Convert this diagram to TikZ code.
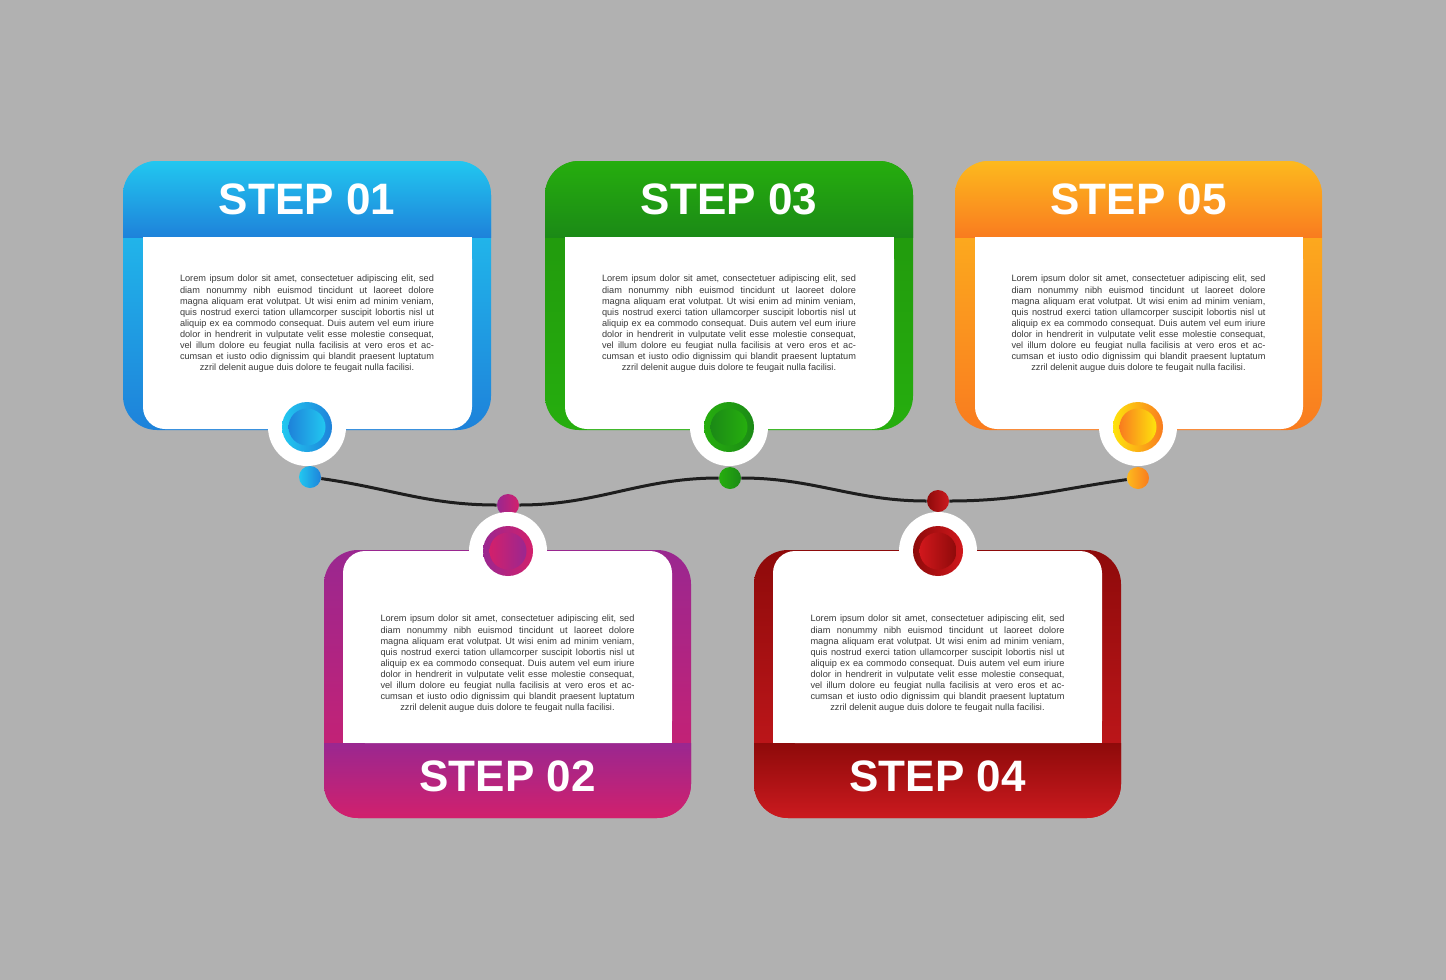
\documentclass[tikz,border=0pt]{standalone}
\usepackage{fontspec}
\setmainfont{Liberation Sans}
\frenchspacing
\definecolor{bg}{HTML}{B1B1B1}
\definecolor{bA}{HTML}{22C8F0}\definecolor{bB}{HTML}{1E82DA}
\definecolor{gA}{HTML}{26AE0E}\definecolor{gB}{HTML}{1B8A16}
\definecolor{oA}{HTML}{FDBA1E}\definecolor{oB}{HTML}{F97C1F}
\definecolor{pA}{HTML}{9A2790}\definecolor{pB}{HTML}{D2206C}
\definecolor{rA}{HTML}{8E0A0A}\definecolor{rB}{HTML}{CC1A1F}
\definecolor{txt}{HTML}{3A3A3A}
\definecolor{wavec}{HTML}{1E1E1E}
\newcommand\JL[1]{\makebox[127pt][s]{#1}\\}
\newcommand\LoremBody{%
\JL{Lorem ipsum dolor sit amet, consectetuer adipiscing elit, sed}%
\JL{diam nonummy nibh euismod tincidunt ut laoreet dolore}%
\JL{magna aliquam erat volutpat. Ut wisi enim ad minim veniam,}%
\JL{quis nostrud exerci tation ullamcorper suscipit lobortis nisl ut}%
\JL{aliquip ex ea commodo consequat. Duis autem vel eum iriure}%
\JL{dolor in hendrerit in vulputate velit esse molestie consequat,}%
\JL{vel illum dolore eu feugiat nulla facilisis at vero eros et ac-}%
\JL{cumsan et iusto odio dignissim qui blandit praesent luptatum}%
zzril delenit augue duis dolore te feugait nulla facilisi.}
\tikzset{
  steplbl/.style={text=white, font=\fontsize{22}{26}\selectfont\bfseries, inner sep=0pt},
  bodytxt/.style={text=txt, font=\fontsize{4.6}{5.55}\selectfont, align=center, inner sep=0pt},
  holderc/.style={circle, fill=white, minimum size=39pt, inner sep=0pt},
  ringc/.style={circle, minimum size=25pt, inner sep=0pt},
  corec/.style={circle, minimum size=18.5pt, inner sep=0pt},
  dotc/.style={circle, minimum size=11pt, inner sep=0pt},
  wave/.style={draw=wavec, line width=1.5pt}
}
% top card: #1 xl, #2 xr, #3 name, #4 label, #5 hdr top, #6 hdr bottom, #7 side top, #8 side bottom
\newcommand\TopCard[8]{%
  \shade[rounded corners=17pt, top color=#7, bottom color=#8] (#1,161) rectangle (#2,430);
  \begin{scope}
    \clip[rounded corners=17pt] (#1,161) rectangle (#2,430);
    \shade[top color=#5, bottom color=#6] (#1,160) rectangle (#2,237);
  \end{scope}
  \fill[white, rounded corners=11pt] ({#1+20},237) rectangle ({#2-19},429);
  \fill[white] ({#1+20},237) rectangle ({#2-19},300);
  \node[steplbl] (#3-title) at ({(#1+#2)/2},199) {#4};
  \node[bodytxt] (#3-text) at ({(#1+#2)/2},324) {\LoremBody};
}
\newcommand\BotCard[8]{%
  \shade[rounded corners=17pt, top color=#7, bottom color=#8] (#1,550) rectangle (#2,818);
  \begin{scope}
    \clip[rounded corners=17pt] (#1,550) rectangle (#2,818);
    \shade[top color=#5, bottom color=#6] (#1,743) rectangle (#2,819);
  \end{scope}
  \fill[white, rounded corners=11pt] ({#1+19},551) rectangle ({#2-19},743);
  \fill[white] ({#1+19},650) rectangle ({#2-19},743);
  \node[steplbl] (#3-title) at ({(#1+#2)/2},776) {#4};
  \node[bodytxt] (#3-text) at ({(#1+#2)/2},664) {\LoremBody};
}
% holder: #1 name, #2 x, #3 y, #4 colour A, #5 colour B
\newcommand\Holder[5]{%
  \node[holderc] (#1) at (#2,#3) {};
  \node[ringc, left color=#4, right color=#5] (#1-ring) at (#1.center) {};
  \node[corec, left color=#5, right color=#4] (#1-core) at (#1.center) {};
}
\begin{document}
\begin{tikzpicture}[x=0.5pt, y=-0.5pt]
\useasboundingbox (0,0) rectangle (1446,980);
\fill[bg] (0,0) rectangle (1446,980);

% dots and wave
\node[dotc, left color=bA, right color=bB] (d1) at (310,477) {};
\node[dotc, left color=pA, right color=pB] (d2) at (508,505) {};
\node[dotc, left color=gA, right color=gB] (d3) at (730,478) {};
\node[dotc, left color=rA, right color=rB] (d4) at (938,501) {};
\node[dotc, left color=oA, right color=oB] (d5) at (1138,478) {};
\draw[wave] (d1) to[out=-8,in=180] (d2) to[out=0,in=180] (d3) to[out=0,in=180] (d4) to[out=0,in=188] (d5);

\TopCard{123}{491}{s1}{STEP 01}{bA}{bB}{bA}{bB}
\TopCard{545}{913}{s3}{STEP 03}{gA}{gB}{gA!85!black}{gA}
\TopCard{955}{1322}{s5}{STEP 05}{oA}{oB}{oA}{oB}
\BotCard{324}{691}{s2}{STEP 02}{pA}{pB}{pA}{pB}
\BotCard{754}{1121}{s4}{STEP 04}{rA}{rB}{rA}{rB}

\Holder{h1}{307}{427}{bA}{bB}
\Holder{h3}{729}{427}{gA}{gB}
\Holder{h5}{1138}{427}{oA!40!yellow}{oB}
\Holder{h2}{508}{551}{pA}{pB}
\Holder{h4}{938}{551}{rA}{rB!90!red}
\end{tikzpicture}
\end{document}
